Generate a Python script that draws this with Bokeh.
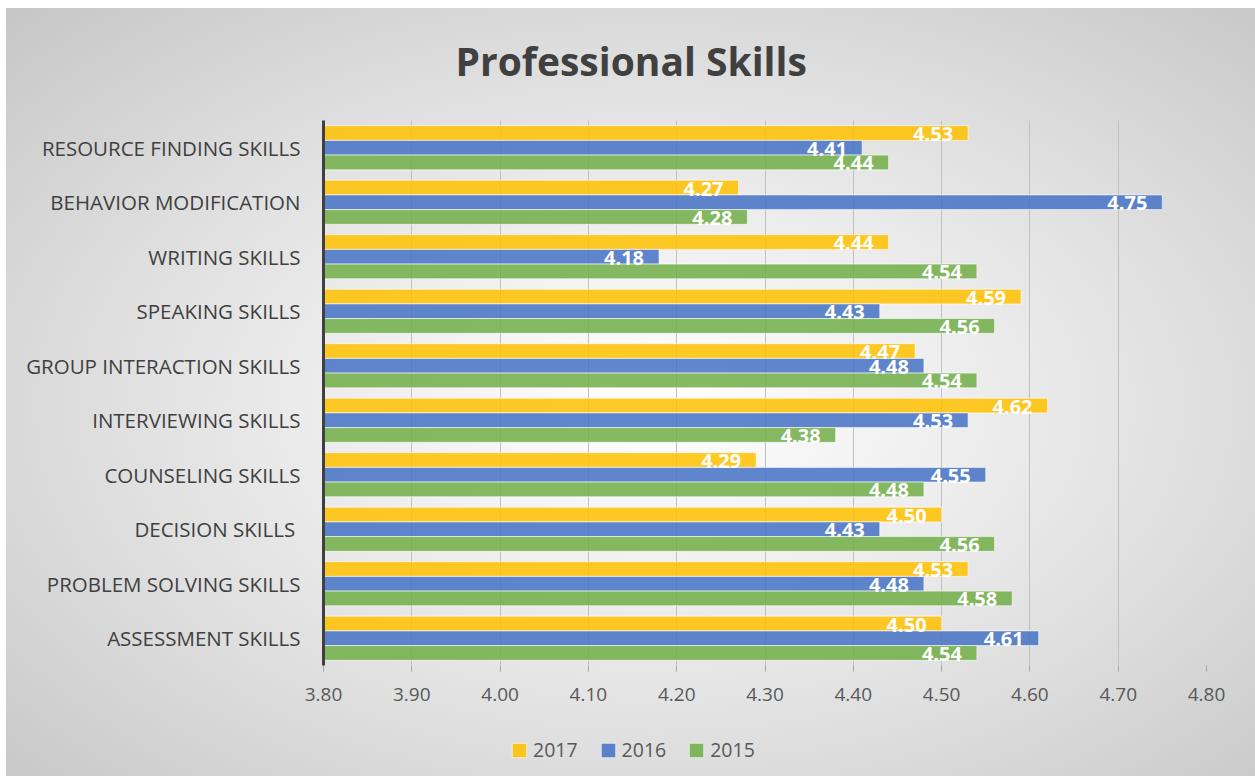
from bokeh.plotting import figure
from bokeh.layouts import column
from bokeh.models import (ColumnDataSource, FactorRange, Range1d, FixedTicker,
                          PrintfTickFormatter, Legend, LegendItem, LabelSet)
from bokeh.transform import dodge
from bokeh.core.properties import value
from bokeh.embed import file_html
from bokeh.resources import INLINE

# ---------------- data ----------------
categories = [
    "RESOURCE FINDING SKILLS",
    "BEHAVIOR MODIFICATION",
    "WRITING SKILLS",
    "SPEAKING SKILLS",
    "GROUP INTERACTION SKILLS",
    "INTERVIEWING SKILLS",
    "COUNSELING SKILLS",
    "DECISION SKILLS ",
    "PROBLEM SOLVING SKILLS",
    "ASSESSMENT SKILLS",
]
v2017 = [4.53, 4.27, 4.44, 4.59, 4.47, 4.62, 4.29, 4.50, 4.53, 4.50]
v2016 = [4.41, 4.75, 4.18, 4.43, 4.48, 4.53, 4.55, 4.43, 4.48, 4.61]
v2015 = [4.44, 4.28, 4.54, 4.56, 4.54, 4.38, 4.48, 4.56, 4.58, 4.54]
series_names = ["2017", "2016", "2015"]
x_ticks = [3.8, 3.9, 4.0, 4.1, 4.2, 4.3, 4.4, 4.5, 4.6, 4.7, 4.8]
x_min, x_max = 3.8, 4.8

colors = {"2017": "#FFC000", "2016": "#4472C4", "2015": "#70AD47"}
offsets = {"2017": 0.27, "2016": 0.0, "2015": -0.27}
FONT = "Open Sans"
BAR_ALPHA = 0.85

source = ColumnDataSource(dict(
    cat=categories, base=[x_min] * len(categories),
    v2017=v2017, v2016=v2016, v2015=v2015,
    l2017=["%.2f" % v for v in v2017],
    l2016=["%.2f" % v for v in v2016],
    l2015=["%.2f" % v for v in v2015],
))

p = figure(
    width=1255, height=722,
    y_range=FactorRange(factors=list(reversed(categories)), range_padding=0),
    x_range=Range1d(x_min, x_max),
    output_backend="svg", toolbar_location=None,
    min_border_left=323, min_border_right=49,
    min_border_top=120, min_border_bottom=57,
    background_fill_color=None, border_fill_color=None,
    outline_line_color=None,
)

for s in series_names:
    p.hbar(
        y=dodge("cat", offsets[s], range=p.y_range), left="base", right="v" + s,
        height=0.27, source=source,
        fill_color=colors[s], fill_alpha=BAR_ALPHA,
        line_color="white", line_alpha=0.6, line_width=1,
    )
    labels = LabelSet(
        x="v" + s, y=dodge("cat", offsets[s], range=p.y_range), text="l" + s,
        source=source, text_align="right", text_baseline="middle",
        x_offset=-15, y_offset=-1,
        text_color="white", text_font=value(FONT), text_font_style="bold",
        text_font_size="20px",
    )
    p.add_layout(labels)

# title
p.title.text = "Professional Skills"
p.title.text_font = FONT
p.title.text_font_size = "39px"
p.title.text_font_style = "bold"
p.title.text_color = "#404040"
p.title.align = "left"
p.title.vertical_align = "top"
p.title.offset = 132
p.title.standoff = 64

# grid
p.ygrid.grid_line_color = None
p.xgrid.grid_line_color = "#c0c0c0"
p.xgrid.grid_line_width = 1
p.xgrid.ticker = FixedTicker(ticks=x_ticks)

# x axis
xa = p.xaxis[0]
xa.ticker = FixedTicker(ticks=x_ticks)
xa.formatter = PrintfTickFormatter(format="%.2f")
xa.axis_line_color = None
xa.major_tick_in = 0
xa.major_tick_out = 6
xa.major_tick_line_color = "#a6a6a6"
xa.minor_tick_line_color = None
xa.major_label_text_font = FONT
xa.major_label_text_font_size = "19px"
xa.major_label_text_color = "#595959"
xa.major_label_standoff = 16

# y axis
ya = p.yaxis[0]
ya.axis_line_color = "#404040"
ya.axis_line_width = 3
ya.major_tick_line_color = None
ya.minor_tick_line_color = None
ya.major_label_text_font = FONT
ya.major_label_text_font_size = "20.5px"
ya.major_label_text_color = "#404040"
ya.major_label_standoff = 17

# legend strip (separate small figure below the chart; its bars are hidden,
# they only supply the legend swatches)
q = figure(
    width=1255, height=60,
    y_range=FactorRange(factors=list(reversed(categories)), range_padding=0),
    x_range=Range1d(x_min, x_max),
    output_backend="svg", toolbar_location=None,
    x_axis_location=None, y_axis_location=None,
    min_border=0, background_fill_color=None, border_fill_color=None,
    outline_line_color=None,
)
q.grid.visible = False
legend_items = []
for s in series_names:
    r = q.hbar(y="cat", left="base", right="v" + s, height=0.27, source=source,
               fill_color=colors[s], fill_alpha=BAR_ALPHA,
               line_color="white", line_alpha=0.6, visible=False)
    legend_items.append(LegendItem(label=s, renderers=[r]))
legend = Legend(
    items=legend_items, orientation="horizontal", location=(187, 19),
    glyph_width=18, glyph_height=18, label_standoff=5, spacing=21,
    padding=0, margin=0, border_line_color=None, background_fill_color=None,
    label_text_font=FONT, label_text_font_size="19.5px", label_text_color="#595959",
)
q.add_layout(legend, "center")

layout = column(p, q, spacing=0, styles={
    "background": "radial-gradient(ellipse farthest-corner at 52% 52%, "
                  "#ffffff 0%, #f4f4f4 22%, #dedede 62%, #c6c6c6 100%) "
                  "6px 8px / 1249px 768px no-repeat, #ffffff",
})

open("out.html", "w").write(file_html(layout, INLINE))
